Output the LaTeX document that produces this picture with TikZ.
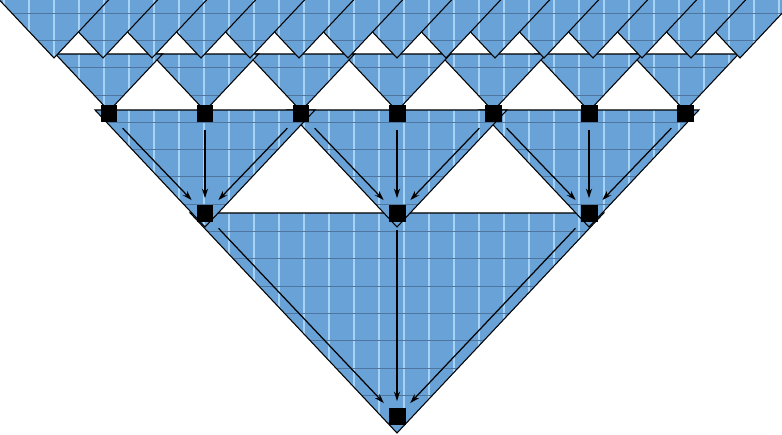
\documentclass[tikz,border=0pt]{standalone}
\usetikzlibrary{arrows.meta}
\definecolor{triblue}{RGB}{104,162,214}
\definecolor{stripeblue}{RGB}{165,210,245}
\definecolor{bandblue}{RGB}{78,118,158}

% one inverted triangle: apex x, apex y, height (pixel units, y downwards)
\newcommand{\tri}[3]{%
  \begin{scope}
    \clip (#1,#2) -- ++({-0.94*#3},{-#3}) -- ++({1.88*#3},0) -- cycle;
    \fill[triblue] (0,0) rectangle (782,435);
    \foreach \vx in {4,29,...,779} \draw[stripe line] (\vx,0) -- (\vx,435);
    \foreach \hy in {13,40.3,...,430} \draw[band line] (0,\hy) -- (782,\hy);
  \end{scope}
  \draw[tri edge] (#1,#2) -- ++({-0.94*#3},{-#3}) -- ++({1.88*#3},0) -- cycle;
}

\begin{document}
\begin{tikzpicture}[x=0.02cm, y=-0.02cm,
  tri edge/.style={draw=black, line width=0.6pt},
  stripe line/.style={draw=stripeblue, line width=0.6pt},
  band line/.style={draw=bandblue, line width=0.35pt},
  sq/.style={fill=black, minimum size=0.34cm, inner sep=0pt},
  flow/.style={-{Stealth[length=5.5pt, width=3.5pt]}, line width=0.7pt,
    shorten <=0.15cm, shorten >=0.14cm}]
  \useasboundingbox (0,0) rectangle (782,435);

  % layers, bottom one first
  \tri{397}{433}{220}
  \foreach \k in {2,1,0} {
    \pgfmathsetmacro\ax{205+192*\k}
    \tri{\ax}{227}{117}
  }
  \foreach \k in {6,...,0} {
    \pgfmathsetmacro\ax{109+96*\k}
    \tri{\ax}{111}{57}
  }
  \foreach \k in {14,...,0} {
    \pgfmathsetmacro\ax{54+49*\k}
    \tri{\ax}{58}{59}
  }

  % squares
  \foreach \k in {1,...,7}
    \node[sq] (a\k) at ({109+96*(\k-1)},114) {};
  \foreach \k in {1,2,3}
    \node[sq] (b\k) at ({205+192*(\k-1)},214) {};
  \node[sq] (c) at (397,417) {};

  % arrows
  \foreach \k in {1,2,3} {
    \pgfmathtruncatemacro\i{2*\k-1}
    \pgfmathtruncatemacro\j{2*\k}
    \pgfmathtruncatemacro\l{2*\k+1}
    \draw[flow] (a\i) -- (b\k);
    \draw[flow] (a\j) -- (b\k);
    \draw[flow] (a\l) -- (b\k);
    \draw[flow] (b\k) -- (c);
  }
\end{tikzpicture}
\end{document}
